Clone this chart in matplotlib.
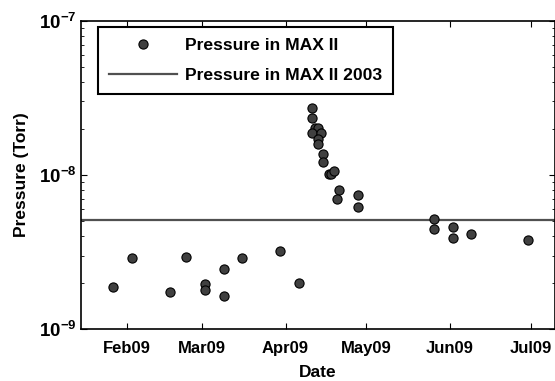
import matplotlib
matplotlib.use('Agg')
import matplotlib.pyplot as plt
import matplotlib.dates as mdates
import matplotlib.ticker as mticker
import numpy as np
import pandas as pd

plt.rcParams['font.family'] = ['Liberation Sans', 'DejaVu Sans']
plt.rcParams['font.weight'] = 'bold'
plt.rcParams['mathtext.fontset'] = 'custom'
plt.rcParams['mathtext.rm'] = 'Liberation Sans:bold'
plt.rcParams['mathtext.bf'] = 'Liberation Sans:bold'
plt.rcParams['mathtext.default'] = 'bf'

# measured pressure, MAX II 2009
dates = ['2009-01-27', '2009-02-03', '2009-02-17', '2009-02-23', '2009-03-02', '2009-03-02',
         '2009-03-09', '2009-03-09', '2009-03-16', '2009-03-30', '2009-04-06',
         '2009-04-11', '2009-04-11', '2009-04-12', '2009-04-13', '2009-04-11', '2009-04-14',
         '2009-04-13', '2009-04-13', '2009-04-15', '2009-04-15', '2009-04-17', '2009-04-18',
         '2009-04-19', '2009-04-21', '2009-04-20', '2009-04-28', '2009-04-28',
         '2009-05-26', '2009-05-26', '2009-06-02', '2009-06-02', '2009-06-09', '2009-06-30']
pressure = [1.87e-9, 2.88e-9, 1.73e-9, 2.95e-9, 1.95e-9, 1.79e-9,
            2.45e-9, 1.63e-9, 2.88e-9, 3.23e-9, 2.0e-9,
            2.73e-8, 2.34e-8, 2.03e-8, 2.03e-8, 1.87e-8, 1.87e-8,
            1.72e-8, 1.58e-8, 1.36e-8, 1.21e-8, 1.01e-8, 1.02e-8,
            1.06e-8, 7.95e-9, 7.02e-9, 7.38e-9, 6.2e-9,
            5.18e-9, 4.48e-9, 4.62e-9, 3.90e-9, 4.12e-9, 3.77e-9]
pressure_2003 = 5.1e-9

tick_dates = ['2009-02-01', '2009-03-01', '2009-04-01', '2009-05-01', '2009-06-01', '2009-07-01']
x_range = ['2009-01-15', '2009-07-10']

d = pd.to_datetime(dates)

fig = plt.figure(figsize=(5.55, 3.81), dpi=100)
ax = fig.add_axes([0.1454, 0.1365, 0.8546, 0.8085])

ax.plot(d, pressure, 'o', color='#404040', markeredgecolor='black', markeredgewidth=0.8,
        markersize=6.6, label='Pressure in MAX II', zorder=3)
ax.axhline(pressure_2003, color='#505050', linewidth=1.6, label='Pressure in MAX II 2003', zorder=2)

ax.set_yscale('log')
ax.set_ylim(1e-9, 1e-7)
ax.set_xlim(pd.to_datetime(x_range[0]), pd.to_datetime(x_range[1]))
ax.set_xticks(pd.to_datetime(tick_dates))
ax.xaxis.set_major_formatter(mdates.DateFormatter('%b%y'))
ax.set_yticks([1e-9, 1e-8, 1e-7])
ax.set_yticklabels([r'$10^{-9}$', r'$10^{-8}$', r'$10^{-7}$'], fontsize=13.5)
ax.yaxis.set_minor_locator(mticker.LogLocator(base=10, subs=np.arange(2, 10)))
ax.yaxis.set_minor_formatter(mticker.NullFormatter())

ax.tick_params(which='both', direction='in', top=True, right=True)
ax.tick_params(axis='x', labelsize=12, pad=9)
ax.tick_params(axis='y', pad=3)
ax.tick_params(which='major', length=4, width=0.8)
ax.tick_params(which='minor', length=2, width=0.6)
for s in ax.spines.values():
    s.set_linewidth(1.2)

ax.set_xlabel('Date', fontsize=12.5, fontweight='bold', labelpad=6)
ax.set_ylabel('Pressure (Torr)', fontsize=12.5, fontweight='bold', labelpad=7)

leg = ax.legend(loc='upper left', bbox_to_anchor=(0.0365, 0.9805), fontsize=12.6, numpoints=1,
                handlelength=3.9, fancybox=False, framealpha=1, edgecolor='black',
                borderpad=0.62, labelspacing=0.82, handletextpad=0.45, borderaxespad=0)
leg.get_frame().set_linewidth(1.5)

fig.savefig('out.png', dpi=100)
